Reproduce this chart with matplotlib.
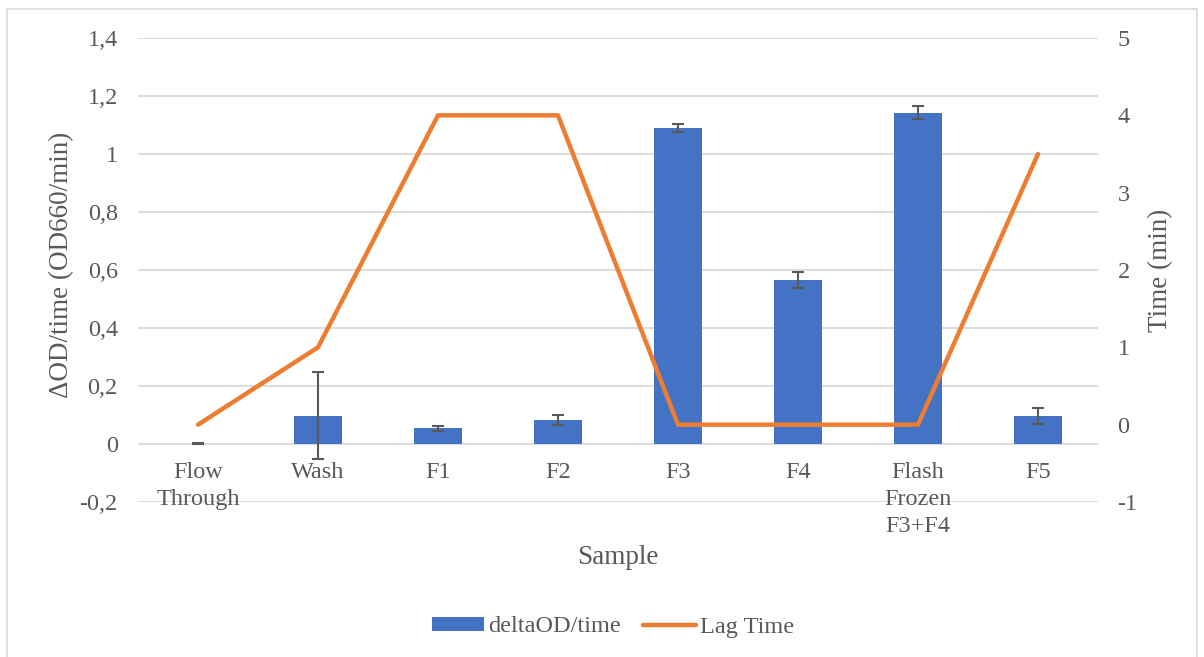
import matplotlib
matplotlib.use("Agg")
import matplotlib.pyplot as plt
from matplotlib.patches import Rectangle
from matplotlib.lines import Line2D
from matplotlib.patches import Patch

categories = ["Flow\nThrough", "Wash", "F1", "F2", "F3", "F4", "Flash\nFrozen\nF3+F4", "F5"]
delta_od = [0.001, 0.097, 0.054, 0.083, 1.089, 0.566, 1.143, 0.097]
delta_err = [0.001, 0.150, 0.008, 0.018, 0.013, 0.028, 0.021, 0.028]
lag_time = [0, 1, 4, 4, 0, 0, 0, 3.5]
left_ticks = [-0.2, 0, 0.2, 0.4, 0.6, 0.8, 1.0, 1.2, 1.4]
right_ticks = [-1, 0, 1, 2, 3, 4, 5]

BLUE = "#4472C4"
ORANGE = "#ED7D31"
TXT = "#595959"
GRID = "#D9D9D9"
FS = 17.5
LFS = 19.5

plt.rcParams['font.family'] = ['Liberation Serif', 'DejaVu Serif']

fig = plt.figure(figsize=(12.04, 6.57), dpi=100)
W, H = 1204, 657
ax = fig.add_axes([138 / W, 1 - 502 / H, 960 / W, 464 / H])
ax2 = ax.twinx()

x = list(range(len(categories)))
ax.bar(x, delta_od, width=0.4, color=BLUE, zorder=3)
ax.errorbar(x, delta_od, yerr=delta_err, fmt='none', ecolor=TXT, elinewidth=1.5,
            capsize=4.5, capthick=1.5, zorder=4)
ax2.plot(x, lag_time, color=ORANGE, lw=3.2, solid_capstyle='round', solid_joinstyle='round', zorder=5)

ax.set_xlim(-0.5, len(categories) - 0.5)
ax.set_ylim(-0.2, 1.4)
ax2.set_ylim(-1, 5)

ax.set_yticks(left_ticks)
ax.set_yticklabels([("%g" % v).replace('.', ',') for v in left_ticks])
ax2.set_yticks(right_ticks)
ax2.set_yticklabels([str(v) for v in right_ticks])

for a in (ax, ax2):
    for s in a.spines.values():
        s.set_visible(False)
    a.tick_params(length=0, labelsize=FS, colors=TXT)
ax.tick_params(axis='y', pad=14.5)
ax2.tick_params(axis='y', pad=14)
ax.yaxis.grid(True, color=GRID, lw=1.3, zorder=0)
ax.set_axisbelow(True)
ax.set_xticks([])
ax2.set_zorder(ax.get_zorder() + 1)
ax2.patch.set_visible(False)

# category labels next to the zero line
for xi, lab in zip(x, categories):
    ax.annotate(lab, xy=(xi, 0), xytext=(0, -18), textcoords='offset pixels',
                ha='center', va='top', fontsize=FS, color=TXT, linespacing=1.37)

fig.text(62 / W, 1 - 265 / H, "ΔOD/time (OD660/min)", rotation=90, ha='center', va='center',
         fontsize=LFS, color=TXT)
fig.text(1161 / W, 1 - 270 / H, "Time (min)", rotation=90, ha='center', va='center',
         fontsize=LFS, color=TXT)
fig.text(618 / W, 1 - 557 / H, "Sample", ha='center', va='center', fontsize=LFS, color=TXT)

handles = [Patch(facecolor=BLUE, edgecolor='none'),
           Line2D([0], [0], color=ORANGE, lw=3.2, solid_capstyle='round')]
leg = fig.legend(handles, ["deltaOD/time", "Lag Time"], loc='center',
                 bbox_to_anchor=(613 / W, 1 - 627 / H), ncol=2, frameon=False,
                 fontsize=FS, handlelength=2.15, handletextpad=0.2, columnspacing=0.9,
                 handleheight=0.5)
for t in leg.get_texts():
    t.set_color(TXT)

fig.patches.append(Rectangle((7 / W, -0.05), 1190 / W, 1.05 - 9 / H, transform=fig.transFigure,
                             fill=False, edgecolor=GRID, lw=1.2))

fig.savefig("out.png", dpi=100)
